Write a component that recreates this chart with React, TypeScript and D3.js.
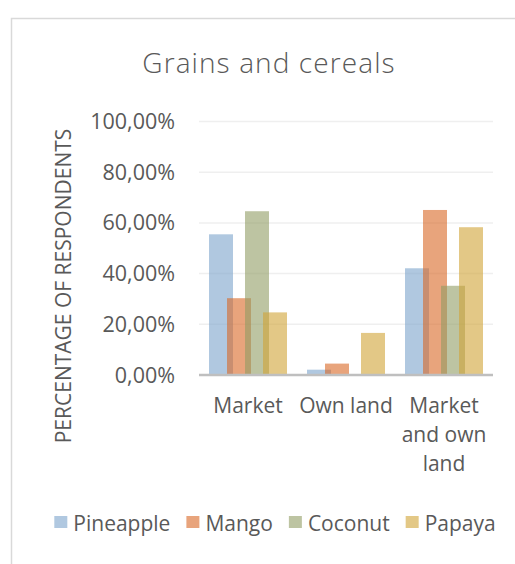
import { useEffect, useRef } from 'react';
import * as d3 from 'd3';

const categories = ['Market', 'Own land', 'Market and own land'];
const categoryLines = [['Market'], ['Own land'], ['Market', 'and own', 'land']];
const series = ['Pineapple', 'Mango', 'Coconut', 'Papaya'];
const pineapple = [55.5, 2.1, 42.1];
const mango = [30.3, 4.5, 65.1];
const coconut = [64.6, 0, 35.2];
const papaya = [24.7, 16.6, 58.3];
const values = [pineapple, mango, coconut, papaya];
const yTicks = [0, 20, 40, 60, 80, 100];

const colors = ['#7ba3cc', '#d96725', '#919d64', '#d0a335'];
const legendColors = ['#b0c8e0', '#e8a47c', '#bdc4a2', '#e3c886'];

const W = 515;
const H = 564;
const FONT = '"Open Sans", sans-serif';
const TEXT = '#595959';

export default function App() {
  const ref = useRef<SVGSVGElement>(null);
  useEffect(() => {
    if (!ref.current) return;
    const svg = d3.select(ref.current);
    svg.selectAll('*').remove();

    // frame
    svg.append('path').attr('d', `M11.5,${H} V18.5 H${W}`)
      .attr('fill', 'none').attr('stroke', '#d9d9d9').attr('stroke-width', 1.5);

    svg.append('text').attr('x', 269).attr('y', 73).attr('text-anchor', 'middle')
      .style('font-family', FONT).style('font-size', '28px').style('font-weight', 300)
      .style('letter-spacing', '1.1px').style('fill', TEXT).text('Grains and cereals');

    const left = 199, right = 493, top = 121.5, bottom = 375;
    const x = d3.scaleBand().domain(categories).range([left, right]).padding(0);
    const y = d3.scaleLinear().domain([0, 100]).range([bottom, top]);
    const xs = d3.scalePoint().domain(series).range([-27, 27]);
    const barW = 24;

    svg.append('g').selectAll('line').data(yTicks.filter(d => d > 0)).enter().append('line')
      .attr('x1', left).attr('x2', right).attr('y1', d => y(d)).attr('y2', d => y(d))
      .attr('stroke', '#efefef').attr('stroke-width', 1.5);

    svg.append('g').selectAll('text').data(yTicks).enter().append('text')
      .attr('x', 175).attr('y', d => y(d) + 7.5).attr('text-anchor', 'end')
      .style('font-family', FONT).style('font-size', '21.5px').style('fill', TEXT)
      .text(d => d3.format('.2f')(d).replace('.', ',') + '%');

    series.forEach((s, si) => {
      svg.append('g').selectAll('rect').data(values[si]).enter().append('rect')
        .attr('x', (_, i) => (x(categories[i]) as number) + x.bandwidth() / 2 + (xs(s) as number) - barW / 2)
        .attr('y', d => y(d)).attr('width', barW).attr('height', d => bottom - y(d))
        .attr('fill', colors[si]).attr('fill-opacity', 0.6);
    });

    svg.append('line').attr('x1', left).attr('x2', right).attr('y1', bottom).attr('y2', bottom)
      .attr('stroke', '#bfbfbf').attr('stroke-width', 2.5);

    categories.forEach((c, i) => {
      const cx = (x(c) as number) + x.bandwidth() / 2;
      const t = svg.append('text').attr('text-anchor', 'middle')
        .style('font-family', FONT).style('font-size', '21px').style('fill', TEXT);
      categoryLines[i].forEach((ln, li) => {
        t.append('tspan').attr('x', cx).attr('y', 413 + li * 29).text(ln);
      });
    });

    svg.append('text').attr('transform', 'translate(71,286) rotate(-90)').attr('text-anchor', 'middle')
      .style('font-family', FONT).style('font-size', '21px').style('fill', TEXT)
      .text('PERCENTAGE OF RESPONDENTS');

    // legend
    const lg = svg.append('g');
    let cur = 0;
    series.forEach((s, si) => {
      const g = lg.append('g').attr('transform', `translate(${cur},0)`);
      g.append('rect').attr('x', 0).attr('y', 516).attr('width', 13).attr('height', 12)
        .attr('fill', legendColors[si]);
      const t = g.append('text').attr('x', 19).attr('y', 531)
        .style('font-family', FONT).style('font-size', '21px').style('fill', TEXT).text(s);
      const tw = (t.node() as SVGTextElement).getComputedTextLength();
      cur += 19 + tw + 16;
    });
    const total = cur - 16;
    lg.attr('transform', `translate(${275 - total / 2},0)`);
  }, []);
  return (
    <svg ref={ref} width={W} height={H} style={{ position: 'absolute', left: 0, top: 0, background: '#fff' }} />
  );
}
